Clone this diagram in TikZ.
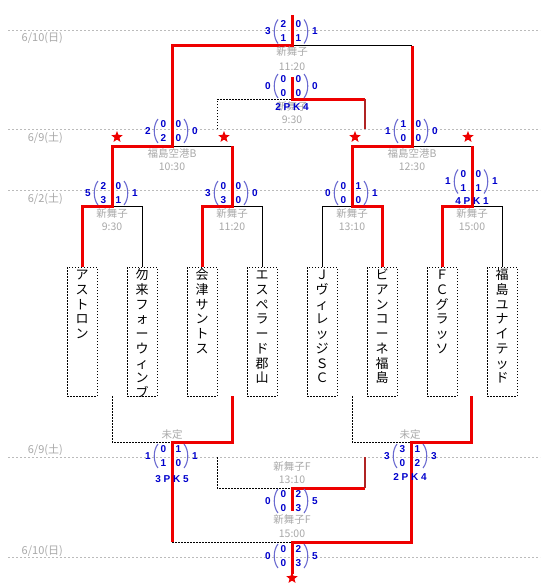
\documentclass[tikz,border=0pt]{standalone}
\usepackage{fontspec}
\setmainfont{Liberation Sans}
\newfontfamily\cjk{Noto Sans CJK JP}
\usetikzlibrary{shapes.geometric}

\definecolor{wred}{HTML}{EE0000}
\definecolor{dred}{HTML}{B02424}
\definecolor{sblue}{HTML}{0000CC}
\definecolor{pblue}{HTML}{6A6AD0}
\definecolor{gtext}{HTML}{A8A8A8}
\definecolor{gline}{HTML}{BBBBBB}

\tikzset{
  x=1pt, y=-1pt,
  win/.style={draw=wred, line width=3pt},
  lose/.style={draw=black, line width=1pt},
  dots/.style={draw=black, line width=1pt, dash pattern=on 1.5pt off 1.5pt},
  semiwin/.style={draw=dred, line width=2.6pt},
  dateline/.style={draw=gline, line width=0.8pt, dash pattern=on 2pt off 2pt},
  datetext/.style={text=gtext, font=\cjk\fontsize{11}{12}\selectfont, anchor=east, inner sep=0},
  venue/.style={text=gtext, font=\cjk\fontsize{10.5}{12}\selectfont, inner sep=0},
  num/.style={text=sblue, font=\bfseries\fontsize{10}{12}\selectfont, inner sep=0},
  pk/.style={text=sblue, font=\bfseries\fontsize{10}{12}\selectfont, inner sep=0},
  teambox/.style={draw=black, line width=0.8pt, dash pattern=on 1.5pt off 1.5pt, minimum width=30pt, minimum height=129pt, inner sep=0},
  chr/.style={font=\cjk\fontsize{13}{14}\selectfont, inner sep=0, text height=0.88em, text depth=0.12em},
  wstar/.style={star, star points=5, star point ratio=2.3, fill=wred, draw=none, minimum size=12pt, inner sep=0},
  paren/.style={draw=pblue, line width=1.1pt},
}

% #1 name, #2 x, #3 y, #4 L, #5 a, #6 b, #7 c, #8 d, #9 R
\newcommand\scoreset[9]{%
  \node[num] (#1L) at (#2-24,#3) {#4};
  \node[num] (#1a) at (#2-8.5,#3-7) {#5};
  \node[num] (#1b) at (#2+6.5,#3-7) {#6};
  \node[num] (#1c) at (#2-8.5,#3+7) {#7};
  \node[num] (#1d) at (#2+6.5,#3+7) {#8};
  \node[num] (#1R) at (#2+23,#3) {#9};
  \draw[paren] (#2-14,#3-12) .. controls (#2-19,#3-6) and (#2-19,#3+6) .. (#2-14,#3+12);
  \draw[paren] (#2+12,#3-12) .. controls (#2+17,#3-6) and (#2+17,#3+6) .. (#2+12,#3+12);
}

% #1 name, #2 x, #3 chars
\newcommand\teamset[3]{%
  \node[teambox] (#1) at (#2,331.5) {};
  \begin{scope}
    \clip (#2-15,267) rectangle (#2+15,396);
    \foreach \c [count=\i] in {#3} \node[chr] (#1-\i) at (#2, 261.3+14.7*\i) {\c};
  \end{scope}
}

\begin{document}
\begin{tikzpicture}
\useasboundingbox (0,0) rectangle (550,586);

% date lines
\foreach \yy in {30,129,190,457,557} \draw[dateline] (8,\yy) -- (540,\yy);
\node[datetext] (d1) at (63,38) {6/10(日)};
\node[datetext] (d2) at (63,138) {6/9(土)};
\node[datetext] (d3) at (63,199) {6/2(土)};
\node[datetext] (d4) at (63,450) {6/9(土)};
\node[datetext] (d5) at (63,551) {6/10(日)};

% teams
\teamset{t1}{82}{ア,ス,ト,ロ,ン}
\teamset{t2}{142}{勿,来,フ,ォ,ー,ウ,ィ,ン,ブ}
\teamset{t3}{202}{会,津,サ,ン,ト,ス}
\teamset{t4}{262}{エ,ス,ペ,ラ,ー,ド,郡,山}
\teamset{t5}{322}{Ｊ,ヴ,ィ,レ,ッ,ジ,Ｓ,Ｃ}
\teamset{t6}{382}{ビ,ア,ン,コ,ー,ネ,福,島}
\teamset{t7}{442}{Ｆ,Ｃ,グ,ラ,ッ,ソ}
\teamset{t8}{502}{福,島,ユ,ナ,イ,テ,ッ,ド}

% coordinates (upper bracket)
\coordinate (mA) at (112,206);
\coordinate (mB) at (232,206);
\coordinate (mC) at (352,206);
\coordinate (mD) at (472,206);
\coordinate (jA) at (112,146);
\coordinate (jB) at (232,146);
\coordinate (jC) at (352,146);
\coordinate (jD) at (472,146);
\coordinate (sL) at (172,146);
\coordinate (sR) at (412,146);
\coordinate (fL) at (172,46);
\coordinate (fR) at (412,46);
\coordinate (fC) at (292,46);
\coordinate (fT) at (292,15);
\coordinate (tL) at (217,129);
\coordinate (tC) at (292,99);
\coordinate (tT) at (292,77);
\coordinate (tR) at (365,99);
\coordinate (tRb) at (365,129);

% coordinates (lower bracket)
\coordinate (bLa) at (112,396);
\coordinate (bLb) at (232,396);
\coordinate (bRa) at (352,396);
\coordinate (bRb) at (471,396);
\coordinate (bL) at (172,442);
\coordinate (bR) at (411,442);
\coordinate (bL2) at (172,542);
\coordinate (bR2) at (411,542);
\coordinate (bC) at (292,542);
\coordinate (bB) at (292,574);
\coordinate (mL) at (217,457);
\coordinate (mM) at (292,488);
\coordinate (mT) at (292,511);
\coordinate (mR) at (365,488);
\coordinate (mRt) at (365,457);

% losing lines
\draw[lose] (mA) -| (t2.north);
\draw[lose] (mB) -| (t4.north);
\draw[lose] (t5.north) |- (mC);
\draw[lose] (mD) -| (t8.north);
\draw[lose] (jB) -- (sL);
\draw[lose] (jD) -- (sR);
\draw[lose] (fC) -- (fR);
\draw[dots] (tL) |- (tC);
\draw[dots] (bLa) |- (bL);
\draw[dots] (bRa) |- (bR);
\draw[dots] (bL2) -- (bC);
\draw[dots] (mL) |- (mM);

% winning lines
\draw[win] (t1.north) |- (mA) -- (jA) -- (sL) -- (fL) -- (fC) -- (fT);
\draw[win] (t3.north) |- (mB) -- (jB);
\draw[win] (t6.north) |- (mC) -- (jC) -- (sR) -- (fR);
\draw[win] (t7.north) |- (mD) -- (jD);
\draw[win] (tT) -- (tC) -- (tR);
\draw[semiwin] (tR) -- (tRb);
\draw[win] (bLb) |- (bL) -- (bL2);
\draw[win] (bRb) |- (bR) -- (bR2) -- (bC) -- (bB);
\draw[win] (mT) -- (mM) -- (mR);
\draw[semiwin] (mR) -- (mRt);

% venues
\node[venue] (v1a) at (292,52) {新舞子};
\node[venue] (v1b) at (292,67) {11:20};
\node[venue] (v2a) at (292,107) {新舞子};
\node[venue] (v2b) at (292,120) {9:30};
\node[venue] (v3a) at (172,153) {福島空港B};
\node[venue] (v3b) at (172,167) {10:30};
\node[venue] (v4a) at (412,153) {福島空港B};
\node[venue] (v4b) at (412,167) {12:30};
\node[venue] (v5a) at (112,214) {新舞子};
\node[venue] (v5b) at (112,227) {9:30};
\node[venue] (v6a) at (232,214) {新舞子};
\node[venue] (v6b) at (232,227) {11:20};
\node[venue] (v7a) at (352,214) {新舞子};
\node[venue] (v7b) at (352,227) {13:10};
\node[venue] (v8a) at (472,214) {新舞子};
\node[venue] (v8b) at (472,227) {15:00};
\node[venue] (v9) at (172,435) {未定};
\node[venue] (v10) at (410,435) {未定};
\node[venue] (v11a) at (292,467) {新舞子F};
\node[venue] (v11b) at (292,480) {13:10};
\node[venue] (v12a) at (292,520) {新舞子F};
\node[venue] (v12b) at (292,534) {15:00};

% scores
\scoreset{sF}{292}{31.5}{3}{2}{0}{1}{1}{1}
\scoreset{s3}{292}{86}{0}{0}{0}{0}{0}{0}
\node[pk] (pk3) at (292,107) {2 P K 4};
\scoreset{sSL}{172}{131}{2}{0}{0}{2}{0}{0}
\scoreset{sSR}{412}{131}{1}{1}{0}{0}{0}{0}
\scoreset{sA}{112}{193}{5}{2}{0}{3}{1}{1}
\scoreset{sB}{232}{193}{3}{0}{0}{3}{0}{0}
\scoreset{sC}{352}{193}{0}{0}{1}{0}{0}{1}
\scoreset{sD}{472}{181.5}{1}{0}{0}{1}{1}{1}
\node[pk] (pkD) at (472,201.5) {4 P K 1};
\scoreset{sLL}{172}{456}{1}{0}{1}{1}{0}{1}
\node[pk] (pkLL) at (172,479) {3 P K 5};
\scoreset{sLR}{411}{456}{3}{3}{1}{0}{2}{3}
\node[pk] (pkLR) at (410,477) {2 P K 4};
\scoreset{sM}{292}{501}{0}{0}{2}{0}{3}{5}
\scoreset{sBt}{292}{556}{0}{0}{2}{0}{3}{5}

% stars
\node[wstar] (st1) at (117,137) {};
\node[wstar] (st2) at (224,137) {};
\node[wstar] (st3) at (355,137) {};
\node[wstar] (st4) at (468,137) {};
\node[wstar] (st5) at (292,578) {};
\end{tikzpicture}
\end{document}
